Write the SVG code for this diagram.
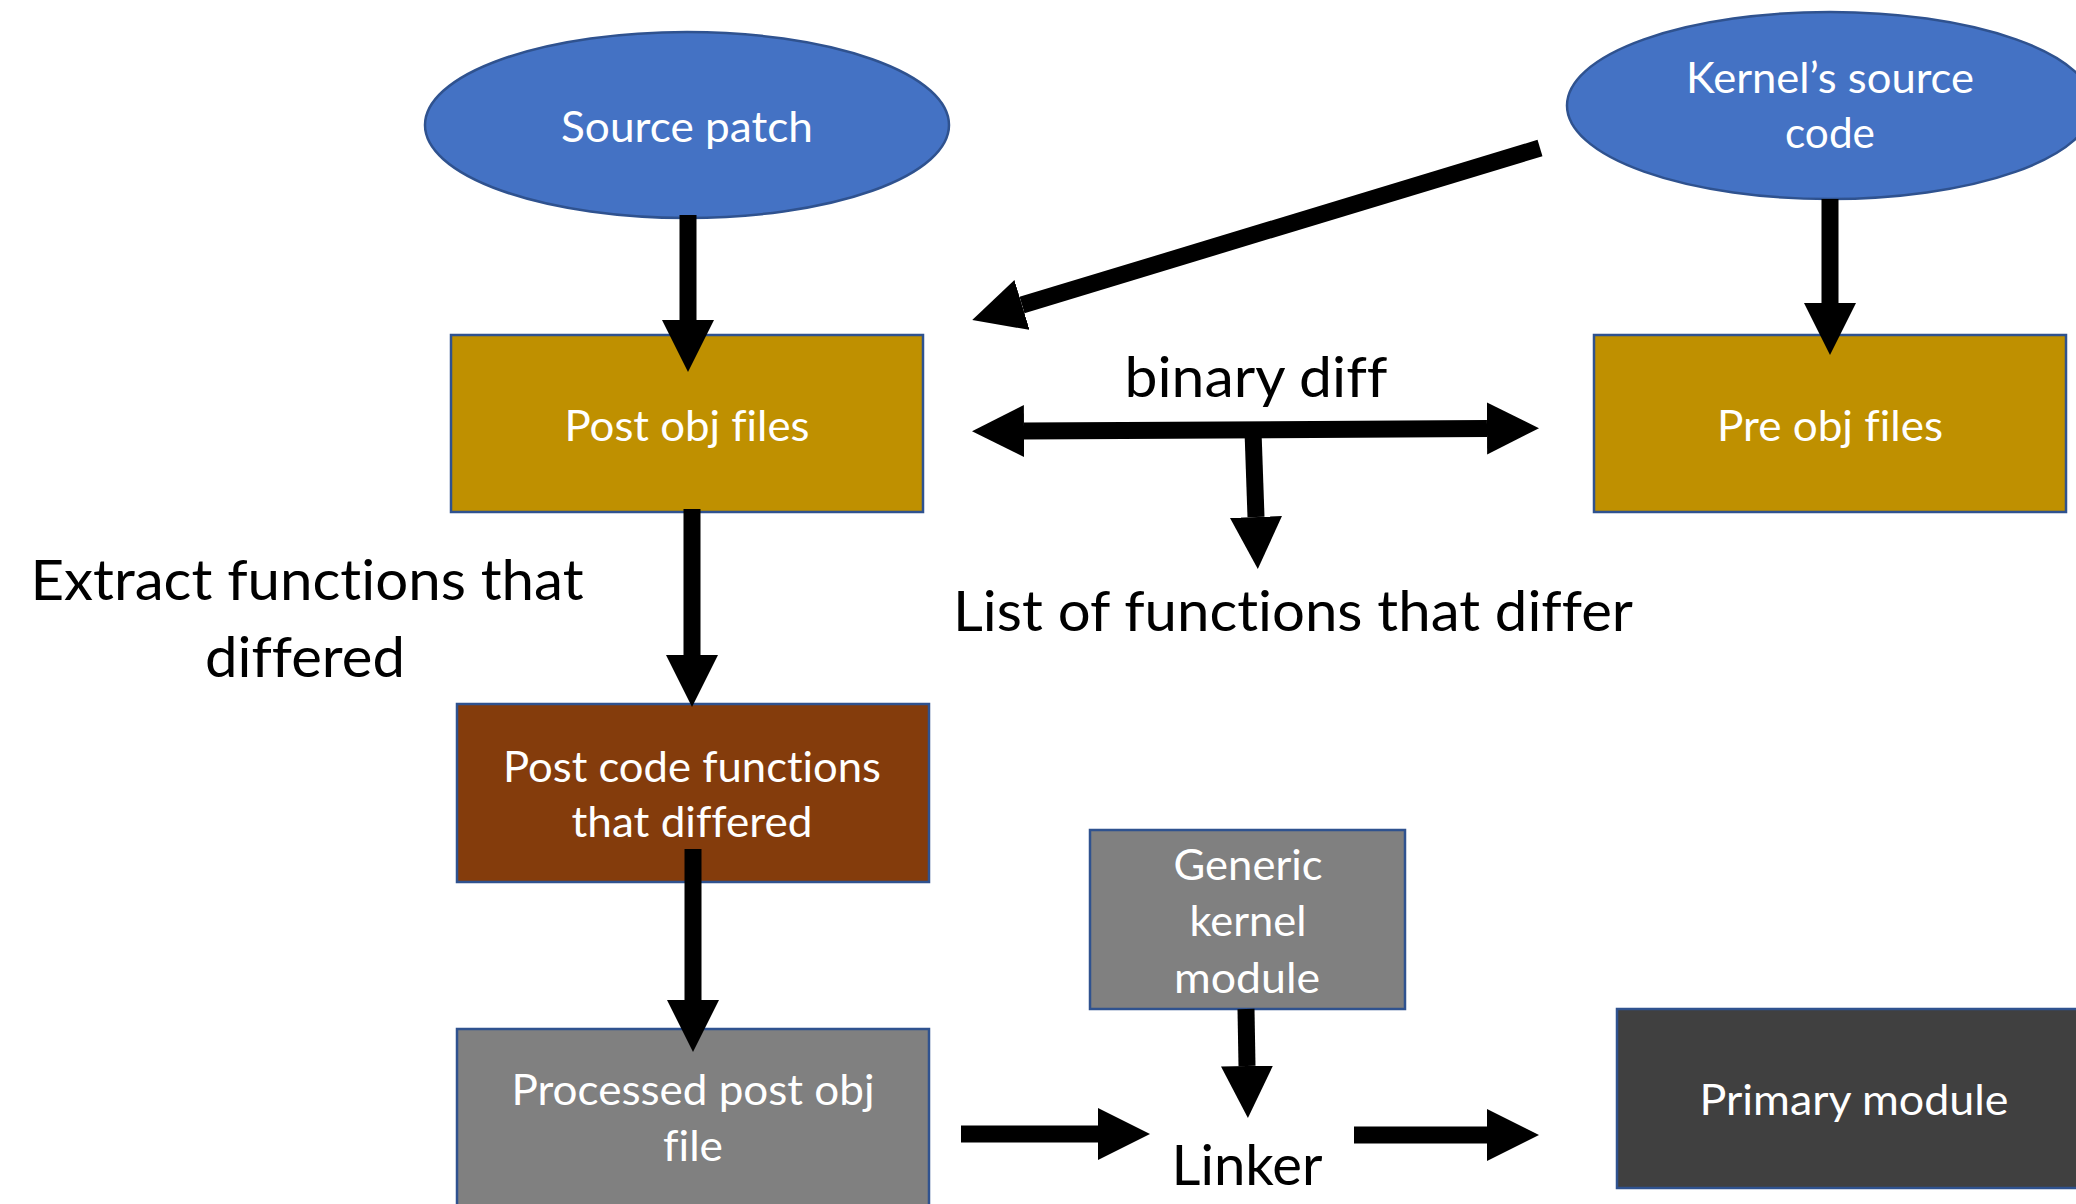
<svg xmlns="http://www.w3.org/2000/svg" width="2076" height="1204" viewBox="0 0 2076 1204">
  <style>
    .node { stroke: #2F528F; stroke-width: 2.5; }
    .blue { fill: #4472C4; }
    .gold { fill: #BF9000; }
    .brown { fill: #843C0C; }
    .grey { fill: #808080; }
    .dark { fill: #404040; }
    text { font-family: Lato, "Open Sans", sans-serif; font-variant-ligatures: none; text-anchor: middle; }
    .wt { fill: #FFFFFF; font-size: 43px; }
    .bt { fill: #000000; font-size: 57px; }
    .conn { stroke: #000000; stroke-width: 17; fill: none; marker-end: url(#head); }
  </style>
  <defs>
    <marker id="head" markerUnits="userSpaceOnUse" markerWidth="54" markerHeight="54" refX="0" refY="26" orient="auto-start-reverse">
      <path d="M0,0 L52,26 L0,52 Z" fill="#000000"/>
    </marker>
  </defs>
  <rect width="2076" height="1204" fill="#FFFFFF"/>

  <!-- nodes -->
  <g id="source-patch">
    <ellipse class="node blue" cx="687" cy="125" rx="262" ry="93"/>
    <text class="wt" x="687" y="142" textLength="252" lengthAdjust="spacingAndGlyphs">Source patch</text>
  </g>
  <g id="kernel-source">
    <ellipse class="node blue" cx="1830" cy="105.5" rx="263" ry="93.5"/>
    <text class="wt" x="1830" y="93" textLength="288" lengthAdjust="spacingAndGlyphs">Kernel’s source</text>
    <text class="wt" x="1830" y="148" textLength="90" lengthAdjust="spacingAndGlyphs">code</text>
  </g>
  <g id="post-obj">
    <rect class="node gold" x="451" y="335" width="472" height="177"/>
    <text class="wt" x="687" y="441" textLength="245" lengthAdjust="spacingAndGlyphs">Post obj files</text>
  </g>
  <g id="pre-obj">
    <rect class="node gold" x="1594" y="335" width="472" height="177"/>
    <text class="wt" x="1830" y="441" textLength="226" lengthAdjust="spacingAndGlyphs">Pre obj files</text>
  </g>
  <g id="post-code-functions">
    <rect class="node brown" x="457" y="704" width="472" height="178"/>
    <text class="wt" x="692" y="782" textLength="378" lengthAdjust="spacingAndGlyphs">Post code functions</text>
    <text class="wt" x="692" y="837" textLength="241" lengthAdjust="spacingAndGlyphs">that differed</text>
  </g>
  <g id="processed-post-obj">
    <rect class="node grey" x="457" y="1029" width="472" height="190"/>
    <text class="wt" x="693" y="1105" textLength="363" lengthAdjust="spacingAndGlyphs">Processed post obj</text>
    <text class="wt" x="693" y="1161" textLength="60" lengthAdjust="spacingAndGlyphs">file</text>
  </g>
  <g id="generic-kernel-module">
    <rect class="node grey" x="1090" y="830" width="315" height="179"/>
    <text class="wt" x="1248" y="880" textLength="149" lengthAdjust="spacingAndGlyphs">Generic</text>
    <text class="wt" x="1248" y="936" textLength="117" lengthAdjust="spacingAndGlyphs">kernel</text>
    <text class="wt" x="1247" y="993" textLength="146" lengthAdjust="spacingAndGlyphs">module</text>
  </g>
  <g id="primary-module">
    <rect class="node dark" x="1617" y="1009" width="470" height="179"/>
    <text class="wt" x="1854" y="1115" textLength="309" lengthAdjust="spacingAndGlyphs">Primary module</text>
  </g>

  <!-- free-standing labels -->
  <g id="labels">
    <text class="bt" x="1256" y="397" textLength="263" lengthAdjust="spacingAndGlyphs">binary diff</text>
    <text class="bt" x="1293" y="631" textLength="680" lengthAdjust="spacingAndGlyphs">List of functions that differ</text>
    <text class="bt" x="307" y="600" textLength="553" lengthAdjust="spacingAndGlyphs">Extract functions that</text>
    <text class="bt" x="305" y="677" textLength="200" lengthAdjust="spacingAndGlyphs">differed</text>
    <text class="bt" x="1247" y="1185" textLength="151" lengthAdjust="spacingAndGlyphs">Linker</text>
  </g>

  <!-- connectors -->
  <g id="connectors">
    <line class="conn" x1="688" y1="215" x2="688" y2="320"/>
    <line class="conn" x1="1830" y1="199" x2="1830" y2="303"/>
    <line class="conn" x1="1540" y1="148" x2="1022" y2="305"/>
    <line class="conn" x1="1024" y1="431" x2="1487" y2="428.5" style="marker-start: url(#head)"/>
    <line class="conn" x1="1253" y1="431" x2="1256" y2="517"/>
    <line class="conn" x1="692" y1="509" x2="692" y2="655"/>
    <line class="conn" x1="693" y1="849" x2="693" y2="1000"/>
    <line class="conn" x1="1246" y1="1009" x2="1247" y2="1066"/>
    <line class="conn" x1="961" y1="1134" x2="1098" y2="1134"/>
    <line class="conn" x1="1354" y1="1135" x2="1487" y2="1135"/>
  </g>
</svg>
